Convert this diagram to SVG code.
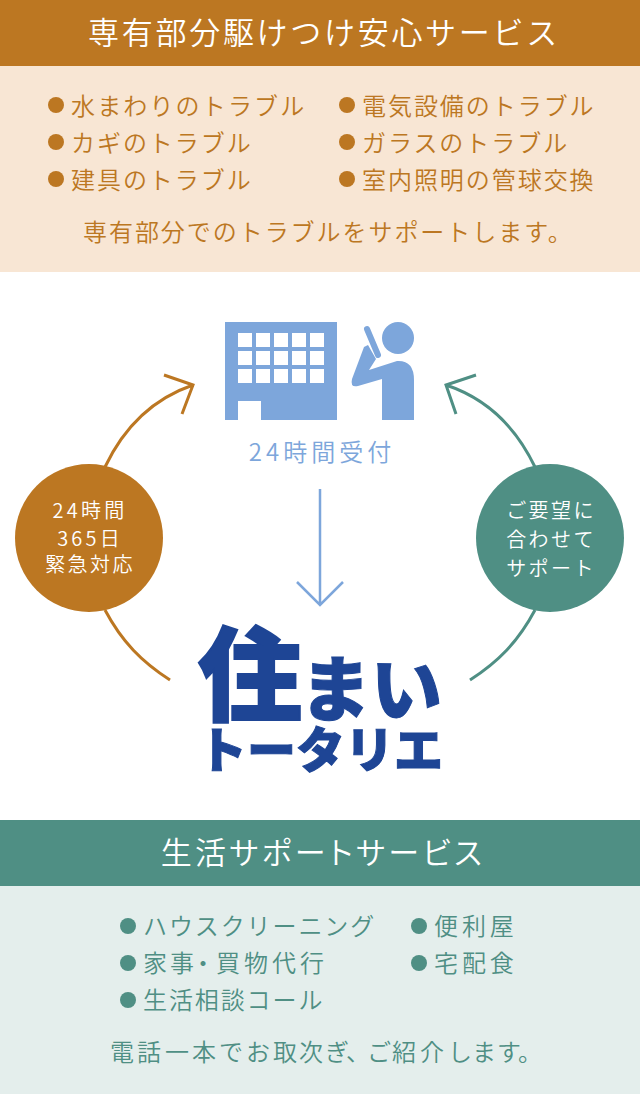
<svg xmlns="http://www.w3.org/2000/svg" width="640" height="1094" viewBox="0 0 640 1094">
<style>
text{font-family:"Noto Sans CJK JP","Noto Sans",sans-serif;font-weight:350}
.h{font-size:31px;fill:#fff;text-anchor:middle}
.o{font-size:24px;letter-spacing:1.95px;fill:#bc7722}
.g{font-size:24px;letter-spacing:1.9px;fill:#4f8f84}
.c{font-size:20px;letter-spacing:2.4px;fill:#fff;text-anchor:middle}
.p{font-feature-settings:"palt";letter-spacing:3.2px}
.b{fill:#7da6db}
.l{fill:#1e4595;font-weight:900;stroke:#1e4595}
.line{fill:none;stroke-width:3}
</style>
<rect width="640" height="1094" fill="#fff"/>
<g id="top-panel">
<rect y="66" width="640" height="206" fill="#f8e6d4"/>
<rect width="640" height="66" fill="#bc7722"/>
<text class="h" x="324" y="44" letter-spacing="2.7">専有部分駆けつけ安心サービス</text>
<g fill="#bc7722"><circle cx="56" cy="105" r="8"/><circle cx="56" cy="142" r="8"/><circle cx="56" cy="179" r="8"/><circle cx="347" cy="105" r="8"/><circle cx="347" cy="142" r="8"/><circle cx="347" cy="179" r="8"/></g>
<text class="o" x="71" y="115" style="letter-spacing:2.15px">水まわりのトラブル</text>
<text class="o" x="71" y="152">カギのトラブル</text>
<text class="o" x="71" y="189">建具のトラブル</text>
<text class="o" x="362" y="115">電気設備のトラブル</text>
<text class="o" x="362" y="152">ガラスのトラブル</text>
<text class="o" x="362" y="189">室内照明の管球交換</text>
<text class="o" x="83" y="241">専有部分でのトラブルをサポートします。</text>
</g>
<g id="connectors">
<g class="line" stroke="#bc7722">
<path d="M105 467C125 425 155 398 193 385M164 375L193 385L182 414"/>
<path d="M105 610C122 642 142 662 170 680"/>
</g>
<g class="line" stroke="#4f8f84">
<path d="M535 467C515 425 485 398 446 385M476 375L446 385L456 414"/>
<path d="M535 610C518 642 498 662 470 680"/>
</g>
<path stroke-width="2.5" fill="none" stroke="#7da6db" d="M320 489V605M297 582L320 605L343 582"/>
</g>
<g id="reception">
<path class="b" fill-rule="evenodd" d="M225 322H337V420H261V401H238V420H225Z M238 333V347H252V333Z M256 333V347H270V333Z M274 333V347H288V333Z M292 333V347H306V333Z M310 333V347H324V333Z M238 351V365H252V351Z M256 351V365H270V351Z M274 351V365H288V351Z M292 351V365H306V351Z M310 351V365H324V351Z M238 369V383H252V369Z M256 369V383H270V369Z M274 369V383H288V369Z M292 369V383H306V369Z M310 369V383H324V369Z"/>
<circle class="b" cx="398" cy="338" r="16"/>
<path class="b" d="M382 420V379L358 386Q350 388 352 379L364 347L368 345L376 359L369 370L397 361Q414 360 414 380V420Z"/>
<path d="M367 329L378 355" stroke="#7da6db" stroke-width="6" stroke-linecap="round" fill="none"/>
<text class="p" x="322" y="461" font-size="24" fill="#7da6db" text-anchor="middle" style="letter-spacing:4px">24時間受付</text>
</g>
<g id="circle-emergency">
<circle cx="89" cy="538" r="74" fill="#bc7722"/>
<text class="c p" x="90" y="518">24時間</text>
<text class="c p" x="90" y="546">365日</text>
<text class="c" x="90" y="572">緊急対応</text>
</g>
<g id="circle-request">
<circle cx="550" cy="538" r="74" fill="#4f8f84"/>
<text class="c" x="551" y="518">ご要望に</text>
<text class="c" x="551" y="547">合わせて</text>
<text class="c" x="551" y="576">サポート</text>
</g>
<g id="logo">
<text class="l" transform="translate(198 713) scale(1 .98)" font-size="104" stroke-width="2">住</text>
<text class="l" transform="translate(300 715)" font-size="71" stroke-width="1">まい</text>
<text class="l" x="198" y="768" font-size="49" stroke-width="1" textLength="245" lengthAdjust="spacingAndGlyphs">トータリエ</text>
</g>
<g id="bottom-panel">
<rect y="886" width="640" height="208" fill="#e4eeec"/>
<rect y="820" width="640" height="66" fill="#4f8f84"/>
<text class="h p" x="323" y="864" style="letter-spacing:3.3px">生活サポートサービス</text>
<g fill="#4f8f84"><circle cx="128" cy="926" r="8"/><circle cx="128" cy="963" r="8"/><circle cx="128" cy="1000" r="8"/><circle cx="419" cy="926" r="8"/><circle cx="419" cy="963" r="8"/></g>
<text class="g" x="143" y="935">ハウスクリーニング</text>
<text class="g" x="143 170 191 216 244 272 300" y="972">家事・買物代行</text>
<text class="g" x="143" y="1009">生活相談コール</text>
<text class="g" x="434" y="935" style="letter-spacing:3.9px">便利屋</text>
<text class="g" x="434" y="972" style="letter-spacing:3.9px">宅配食</text>
<text class="g" x="110 137 165 192 219 246 273 299 325 346 367 392 420 448 472 497 518" y="1061">電話一本でお取次ぎ、ご紹介します。</text>
</g>
</svg>
